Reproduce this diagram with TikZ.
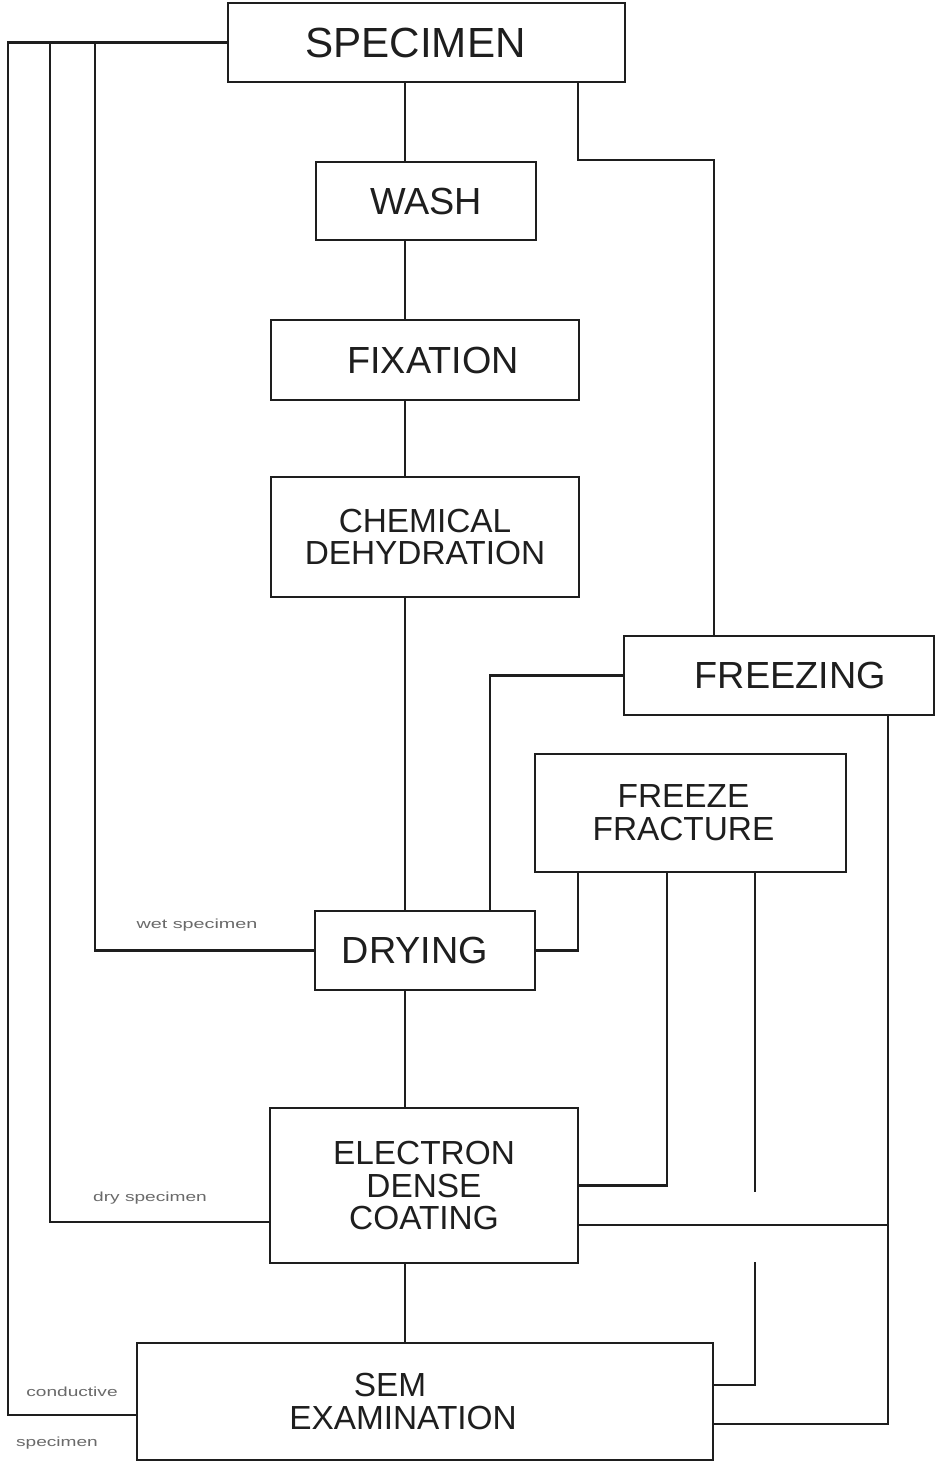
\documentclass[tikz,border=0pt]{standalone}
\usepackage{fontspec}
\usepackage{graphicx}
\setmainfont{Liberation Sans}
\definecolor{ink}{HTML}{1E1E1E}
\definecolor{faint}{HTML}{6A6A6A}
\tikzset{
  box/.style={draw=ink, line width=1.5pt, fill=white, inner sep=0pt, outer sep=0pt, align=center, text=ink},
  big/.style={font=\fontsize{24}{26}\selectfont},
  mid/.style={font=\fontsize{21.5}{24}\selectfont},
  small/.style={font=\fontsize{19}{18.7}\selectfont},
  link/.style={draw=ink, line width=1.5pt},
  note/.style={text=faint, inner sep=0pt, font=\fontsize{7.5}{8}\selectfont}
}
\begin{document}
\begin{tikzpicture}[x=0.02cm, y=-0.02cm]
\useasboundingbox[fill=white] (0,0) rectangle (936,1465);

% boxes
\node[box, big, minimum width=7.94cm, minimum height=1.58cm] (specimen) at (426.5,42.5) {\hspace*{-0.44cm}SPECIMEN};
\node[box, mid, minimum width=4.40cm, minimum height=1.56cm] (wash) at (426,201) {WASH};
\node[box, mid, minimum width=6.16cm, minimum height=1.60cm] (fixation) at (425,360) {\hspace*{0.32cm}FIXATION};
\node[box, small, minimum width=6.16cm, minimum height=2.40cm] (chem) at (425,537) {CHEMICAL\\DEHYDRATION};
\node[box, mid, minimum width=6.20cm, minimum height=1.58cm] (freezing) at (779,675.5) {\hspace*{0.45cm}FREEZING};
\node[box, small, minimum width=6.22cm, minimum height=2.36cm] (ff) at (690.5,813) {\hspace*{-0.28cm}FREEZE\\\hspace*{-0.28cm}FRACTURE};
\node[box, mid, minimum width=4.40cm, minimum height=1.58cm] (drying) at (425,950.5) {\hspace*{-0.4cm}DRYING};
\node[box, small, minimum width=6.16cm, minimum height=3.10cm] (coating) at (424,1185.5) {ELECTRON\\DENSE\\COATING};
\node[box, small, minimum width=11.52cm, minimum height=2.34cm] (sem) at (425,1401.5) {\hspace*{-1.4cm}SEM\\\hspace*{-0.88cm}EXAMINATION};

% helper coordinates
\coordinate (mx) at (405,0);
\coordinate (k490) at (490,0);
\coordinate (k578) at (578,0);
\coordinate (k667) at (667,0);
\coordinate (k755) at (755,0);
\coordinate (k888) at (888,0);
\coordinate (wetc) at (95,950.5);
\coordinate (dryc) at (50,1222);
\coordinate (condc) at (8,1415);
\coordinate (fz1) at (714,160);
\coordinate (c1225) at (0,1225);
\coordinate (c1385) at (0,1385);
\coordinate (c1424) at (0,1424);
\coordinate (gap1) at (755,1192);
\coordinate (gap2) at (755,1262);

% main spine
\draw[link] (specimen.south -| mx) -- (wash.north -| mx);
\draw[link] (wash.south -| mx) -- (fixation.north -| mx);
\draw[link] (fixation.south -| mx) -- (chem.north -| mx);
\draw[link] (chem.south -| mx) -- (drying.north -| mx);
\draw[link] (drying.south -| mx) -- (coating.north -| mx);
\draw[link] (coating.south -| mx) -- (sem.north -| mx);

% left bypasses
\draw[link] (specimen.west) -| (wetc) -- (drying.west);
\draw[link] (specimen.west) -| (dryc) -- (coating.west |- dryc);
\draw[link] (specimen.west) -| (condc) -- (sem.west |- condc);

% freezing branch
\draw[link] (specimen.south -| k578) |- (fz1) -- (freezing.north -| fz1);
\draw[link] (freezing.west) -| (drying.north -| k490);
\draw[link] (ff.south -| k578) |- (drying.east);
\draw[link] (ff.south -| k667) |- (coating.east);
\draw[link] (ff.south -| k755) -- (gap1);
\draw[link] (gap2) |- (sem.east |- c1385);
\draw[link] (freezing.south -| k888) |- (sem.east |- c1424);
\draw[link] (coating.east |- c1225) -- (c1225 -| k888);

% labels
\node[note] (lwet) at (197,925) {\scalebox{1.5}[1]{wet specimen}};
\node[note] (ldry) at (150,1198) {\scalebox{1.45}[1]{dry specimen}};
\node[note] (lcond) at (72,1392) {\scalebox{1.45}[1]{conductive}};
\node[note] (lspec) at (57,1443) {\scalebox{1.45}[1]{specimen}};
\end{tikzpicture}
\end{document}
